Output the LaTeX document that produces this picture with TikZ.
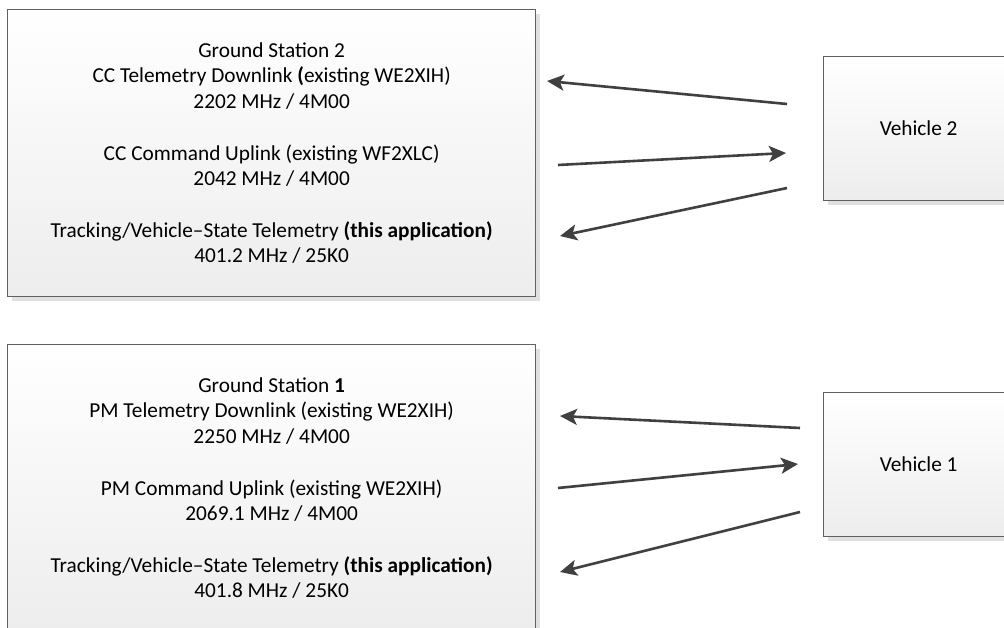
\documentclass[tikz,border=0pt]{standalone}
\usepackage{fontspec}
\setmainfont{Carlito}
\usetikzlibrary{arrows.meta,shadows}
\definecolor{edgegray}{HTML}{606060}
\definecolor{arrowgray}{HTML}{404040}
\definecolor{shadowgray}{HTML}{E0E0E0}
\definecolor{fillbottom}{HTML}{EDEDED}
\begin{document}
\begin{tikzpicture}[x=1pt,y=-1pt,
  box/.style={draw=edgegray, line width=1.3pt, top color=white, bottom color=fillbottom,
    inner sep=0pt, anchor=north west, align=center,
    drop shadow={shadow xshift=4pt, shadow yshift=-4pt, fill=shadowgray, opacity=1},
    font=\fontsize{21.3}{25.7}\selectfont},
  link/.style={draw=arrowgray, line width=2.6pt, -{Stealth[length=17pt,width=16pt,inset=4pt]}}]
\useasboundingbox (0,0) rectangle (1004,628);
\clip (0,0) rectangle (1004,628);
\node[box, minimum width=528pt, minimum height=287pt] (gs2) at (7,9)
  {Ground Station 2\\
   CC Telemetry Downlink \textbf{(}existing WE2XIH)\\
   2202 MHz / 4M00\\[25.7pt]
   CC Command Uplink (existing WF2XLC)\\
   2042 MHz / 4M00\\[25.7pt]
   Tracking/Vehicle–State Telemetry \textbf{(this application)}\\
   401.2 MHz / 25K0};
\node[box, minimum width=528pt, minimum height=287pt] (gs1) at (7,344)
  {Ground Station \textbf{1}\\
   PM Telemetry Downlink (existing WE2XIH)\\
   2250 MHz / 4M00\\[25.7pt]
   PM Command Uplink (existing WE2XIH)\\
   2069.1 MHz / 4M00\\[25.7pt]
   Tracking/Vehicle–State Telemetry \textbf{(this application)}\\
   401.8 MHz / 25K0};
\node[box, minimum width=190pt, minimum height=144pt] (v2) at (823,56) {Vehicle 2};
\node[box, minimum width=190pt, minimum height=144pt] (v1) at (823,392) {Vehicle 1};
% connector ends
\coordinate (a1s) at (787,104); \coordinate (a1e) at (547,81);
\coordinate (a2s) at (558,165); \coordinate (a2e) at (786,153);
\coordinate (a3s) at (787,188); \coordinate (a3e) at (560,236);
\coordinate (b1s) at (800,428); \coordinate (b1e) at (560,416);
\coordinate (b2s) at (558,488); \coordinate (b2e) at (798,464);
\coordinate (b3s) at (800,512); \coordinate (b3e) at (560,572);
\draw[link] (a1s) -- (a1e);
\draw[link] (a2s) -- (a2e);
\draw[link] (a3s) -- (a3e);
\draw[link] (b1s) -- (b1e);
\draw[link] (b2s) -- (b2e);
\draw[link] (b3s) -- (b3e);
\end{tikzpicture}
\end{document}
